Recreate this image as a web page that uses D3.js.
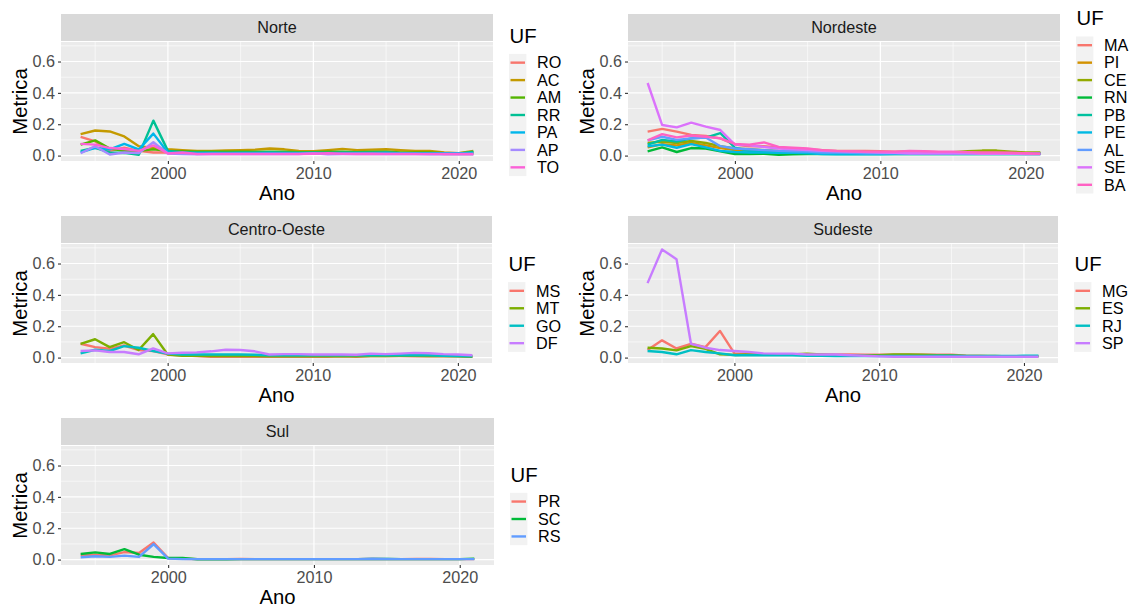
<!DOCTYPE html>
<meta charset="utf-8">
<script src="https://d3js.org/d3.v7.min.js"></script>
<style>
  body { margin: 0; background: #fff; }
  text { font-family: "Liberation Sans", Arial, sans-serif; }
</style>
<div id="my_dataviz"></div>
<script>

// ---- Data ----
var anos = [1994, 1995, 1996, 1997, 1998, 1999, 2000, 2001, 2002, 2003, 2004, 2005, 2006, 2007,
            2008, 2009, 2010, 2011, 2012, 2013, 2014, 2015, 2016, 2017, 2018, 2019, 2020, 2021];

var ufNorte = ["RO", "AC", "AM", "RR", "PA", "AP", "TO"];
var metricaNorte = [
  [0.12, 0.09, 0.03, 0.05, 0.03, 0.02, 0.02,
   0.02, 0.015, 0.015, 0.015, 0.015, 0.015, 0.02, 0.015, 0.015, 0.02, 0.015, 0.015, 0.015, 0.02, 0.02, 0.015, 0.015, 0.015, 0.01, 0.01, 0.01],
  [0.137, 0.16, 0.154, 0.122, 0.06, 0.048, 0.04,
   0.035, 0.03, 0.03, 0.033, 0.035, 0.038, 0.045, 0.04, 0.03, 0.028, 0.035, 0.043, 0.035, 0.038, 0.04, 0.035, 0.03, 0.03, 0.02, 0.015, 0.03],
  [0.07, 0.097, 0.045, 0.03, 0.03, 0.04, 0.03,
   0.028, 0.025, 0.025, 0.025, 0.025, 0.025, 0.025, 0.025, 0.022, 0.022, 0.025, 0.025, 0.022, 0.025, 0.025, 0.02, 0.02, 0.02, 0.015, 0.015, 0.02],
  [0.03, 0.05, 0.02, 0.017, 0.005, 0.223, 0.03,
   0.022, 0.02, 0.02, 0.018, 0.02, 0.02, 0.022, 0.02, 0.018, 0.02, 0.018, 0.02, 0.02, 0.02, 0.018, 0.015, 0.015, 0.015, 0.012, 0.012, 0.025],
  [0.02, 0.05, 0.04, 0.075, 0.04, 0.14, 0.02,
   0.018, 0.015, 0.015, 0.015, 0.015, 0.015, 0.015, 0.015, 0.015, 0.015, 0.015, 0.015, 0.015, 0.015, 0.018, 0.015, 0.015, 0.015, 0.015, 0.015, 0.015],
  [0.015, 0.06, 0.007, 0.02, 0.017, 0.085, 0.013,
   0.01, 0.008, 0.01, 0.01, 0.01, 0.01, 0.01, 0.01, 0.01, 0.015, 0.008, 0.01, 0.012, 0.01, 0.01, 0.01, 0.01, 0.008, 0.008, 0.008, 0.008],
  [0.075, 0.07, 0.048, 0.042, 0.03, 0.065, 0.013,
   0.02, 0.01, 0.01, 0.01, 0.01, 0.01, 0.01, 0.01, 0.01, 0.012, 0.015, 0.012, 0.01, 0.012, 0.01, 0.01, 0.01, 0.01, 0.01, 0.01, 0.01]
];

var ufNordeste = ["MA", "PI", "CE", "RN", "PB", "PE", "AL", "SE", "BA"];
var metricaNordeste = [
  [0.153, 0.17, 0.153, 0.132, 0.125, 0.11, 0.07,
   0.06, 0.06, 0.05, 0.045, 0.04, 0.035, 0.03, 0.03, 0.03, 0.028, 0.025, 0.025, 0.025, 0.022, 0.02, 0.02, 0.02, 0.02, 0.018, 0.015, 0.015],
  [0.052, 0.073, 0.065, 0.08, 0.065, 0.048, 0.035,
   0.03, 0.028, 0.025, 0.025, 0.022, 0.02, 0.02, 0.02, 0.018, 0.018, 0.018, 0.018, 0.018, 0.018, 0.02, 0.02, 0.02, 0.022, 0.02, 0.015, 0.015],
  [0.08, 0.09, 0.08, 0.093, 0.08, 0.06, 0.045,
   0.04, 0.035, 0.03, 0.028, 0.025, 0.025, 0.025, 0.022, 0.022, 0.02, 0.022, 0.025, 0.02, 0.022, 0.022, 0.028, 0.032, 0.032, 0.025, 0.02, 0.02],
  [0.027, 0.052, 0.023, 0.048, 0.045, 0.027, 0.01,
   0.01, 0.012, 0.005, 0.008, 0.01, 0.01, 0.01, 0.01, 0.01, 0.01, 0.01, 0.01, 0.01, 0.01, 0.01, 0.01, 0.01, 0.01, 0.01, 0.01, 0.01],
  [0.07, 0.1, 0.09, 0.11, 0.115, 0.143, 0.05,
   0.03, 0.025, 0.02, 0.02, 0.02, 0.02, 0.018, 0.015, 0.015, 0.015, 0.015, 0.015, 0.015, 0.015, 0.015, 0.012, 0.012, 0.012, 0.012, 0.012, 0.012],
  [0.06, 0.07, 0.05, 0.073, 0.052, 0.03, 0.023,
   0.02, 0.02, 0.018, 0.018, 0.015, 0.01, 0.008, 0.008, 0.008, 0.008, 0.01, 0.01, 0.01, 0.01, 0.01, 0.01, 0.01, 0.01, 0.01, 0.01, 0.01],
  [0.097, 0.12, 0.1, 0.11, 0.115, 0.06, 0.045,
   0.04, 0.035, 0.03, 0.028, 0.025, 0.02, 0.02, 0.018, 0.015, 0.015, 0.015, 0.012, 0.012, 0.012, 0.012, 0.012, 0.012, 0.012, 0.012, 0.012, 0.012],
  [0.463, 0.195, 0.18, 0.21, 0.185, 0.163, 0.07,
   0.065, 0.055, 0.045, 0.04, 0.035, 0.03, 0.028, 0.025, 0.022, 0.02, 0.018, 0.015, 0.015, 0.015, 0.015, 0.015, 0.012, 0.012, 0.012, 0.01, 0.01],
  [0.097, 0.137, 0.116, 0.128, 0.12, 0.11, 0.075,
   0.07, 0.084, 0.055, 0.05, 0.045, 0.035, 0.03, 0.028, 0.025, 0.025, 0.025, 0.03, 0.028, 0.025, 0.025, 0.022, 0.02, 0.02, 0.018, 0.015, 0.012]
];

var ufCentroOeste = ["MS", "MT", "GO", "DF"];
var metricaCentroOeste = [
  [0.088, 0.067, 0.056, 0.077, 0.048, 0.042, 0.02,
   0.015, 0.01, 0.005, 0.005, 0.005, 0.005, 0.005, 0.005, 0.005, 0.005, 0.005, 0.008, 0.005, 0.01, 0.01, 0.01, 0.008, 0.008, 0.008, 0.008, 0.005],
  [0.088, 0.117, 0.067, 0.098, 0.048, 0.15, 0.02,
   0.012, 0.012, 0.01, 0.01, 0.01, 0.01, 0.008, 0.008, 0.008, 0.008, 0.008, 0.008, 0.008, 0.01, 0.01, 0.012, 0.012, 0.01, 0.01, 0.008, 0.005],
  [0.027, 0.05, 0.042, 0.073, 0.063, 0.042, 0.025,
   0.02, 0.02, 0.02, 0.02, 0.02, 0.018, 0.015, 0.015, 0.015, 0.015, 0.015, 0.015, 0.015, 0.015, 0.015, 0.015, 0.015, 0.015, 0.012, 0.01, 0.008],
  [0.042, 0.046, 0.036, 0.036, 0.021, 0.059, 0.027,
   0.031, 0.033, 0.04, 0.05, 0.048, 0.04, 0.02, 0.022, 0.022, 0.02, 0.02, 0.02, 0.018, 0.025, 0.022, 0.025, 0.03, 0.028, 0.022, 0.02, 0.015]
];

var ufSudeste = ["MG", "ES", "RJ", "SP"];
var metricaSudeste = [
  [0.048, 0.11, 0.058, 0.088, 0.067, 0.17, 0.027,
   0.025, 0.022, 0.02, 0.02, 0.02, 0.02, 0.02, 0.02, 0.018, 0.018, 0.018, 0.018, 0.018, 0.018, 0.018, 0.012, 0.01, 0.008, 0.008, 0.008, 0.008],
  [0.063, 0.058, 0.046, 0.073, 0.056, 0.021, 0.017,
   0.02, 0.02, 0.02, 0.02, 0.025, 0.02, 0.015, 0.015, 0.015, 0.015, 0.02, 0.02, 0.018, 0.015, 0.015, 0.01, 0.01, 0.01, 0.008, 0.008, 0.008],
  [0.042, 0.036, 0.021, 0.048, 0.036, 0.027, 0.015,
   0.015, 0.015, 0.015, 0.015, 0.012, 0.012, 0.01, 0.01, 0.01, 0.01, 0.01, 0.01, 0.01, 0.012, 0.012, 0.01, 0.01, 0.01, 0.01, 0.012, 0.012],
  [0.475, 0.69, 0.628, 0.088, 0.063, 0.048, 0.042,
   0.036, 0.027, 0.025, 0.025, 0.02, 0.02, 0.02, 0.015, 0.012, 0.008, 0.005, 0.005, 0.005, 0.005, 0.005, 0.005, 0.005, 0.005, 0.005, 0.005, 0.005]
];

var ufSul = ["PR", "SC", "RS"];
var metricaSul = [
  [0.031, 0.031, 0.027, 0.048, 0.042, 0.109, 0.01,
   0.005, 0.003, 0.003, 0.003, 0.004, 0.003, 0.003, 0.003, 0.003, 0.003, 0.003, 0.003, 0.003, 0.004, 0.003, 0.003, 0.004, 0.004, 0.003, 0.003, 0.003],
  [0.036, 0.046, 0.036, 0.067, 0.031, 0.017, 0.01,
   0.01, 0.002, 0.002, 0.002, 0.003, 0.003, 0.003, 0.003, 0.003, 0.003, 0.003, 0.003, 0.003, 0.004, 0.004, 0.003, 0.003, 0.003, 0.003, 0.003, 0.006],
  [0.015, 0.021, 0.017, 0.025, 0.017, 0.098, 0.006,
   0.003, 0.003, 0.003, 0.003, 0.003, 0.003, 0.003, 0.003, 0.003, 0.003, 0.003, 0.003, 0.003, 0.005, 0.004, 0.003, 0.003, 0.003, 0.003, 0.003, 0.003]
];

// Ticks
var xTicks = [2000, 2010, 2020];
var xMinor = [1995, 2005, 2015];
var yTicks = [0.0, 0.2, 0.4, 0.6];
var yMinor = [0.1, 0.3, 0.5, 0.7];

// ---- Styles / layout ----
// ggplot hue palettes
var paletas = {
  3: ["#F8766D", "#00BA38", "#619CFF"],
  4: ["#F8766D", "#7CAE00", "#00BFC4", "#C77CFF"],
  7: ["#F8766D", "#C49A00", "#53B400", "#00C094", "#00B6EB", "#A58AFF", "#FB61D7"],
  9: ["#F8766D", "#D39200", "#93AA00", "#00BA38", "#00C19F", "#00B9E3", "#619CFF", "#DB72FB", "#FF61C3"]
};

var graficos = [
  { nome: "Norte",        ufs: ufNorte,       valores: metricaNorte,       ox: 0,   oy: 0,   right: 493 },
  { nome: "Nordeste",     ufs: ufNordeste,    valores: metricaNordeste,    ox: 567, oy: 0,   right: 493 },
  { nome: "Centro-Oeste", ufs: ufCentroOeste, valores: metricaCentroOeste, ox: 0,   oy: 202, right: 492 },
  { nome: "Sudeste",      ufs: ufSudeste,     valores: metricaSudeste,     ox: 567, oy: 202, right: 491 },
  { nome: "Sul",          ufs: ufSul,         valores: metricaSul,         ox: 0,   oy: 404, right: 494 }
];

var panelLeft = 61, stripTop = 14, stripBottom = 41, panelTop = 42, panelBottom = 161;
var keyStep = 17.45;
var smallFont = '16.2px', bigFont = '20.3px';

var svg = d3.select('#my_dataviz')
  .append('svg')
    .attr('width', 1131)
    .attr('height', 607);

graficos.forEach(function (p) {
  var g = svg.append('g')
    .attr('transform', 'translate(' + p.ox + ',' + p.oy + ')');

  var x = d3.scaleLinear().domain([1992.65, 2022.35]).range([panelLeft, p.right]);
  var y = d3.scaleLinear().domain([-0.0345, 0.7245]).range([panelBottom, panelTop]);
  var cor = paletas[p.ufs.length];

  // Strip
  g.append('rect')
    .attr('x', panelLeft).attr('y', stripTop)
    .attr('width', p.right - panelLeft).attr('height', stripBottom - stripTop)
    .attr('fill', '#D9D9D9');
  g.append('text')
    .attr('x', (panelLeft + p.right) / 2)
    .attr('y', (stripTop + stripBottom) / 2)
    .attr('dy', '0.36em')
    .attr('text-anchor', 'middle')
    .style('font-size', smallFont)
    .style('fill', '#1A1A1A')
    .text(p.nome);

  // Panel background
  g.append('rect')
    .attr('x', panelLeft).attr('y', panelTop)
    .attr('width', p.right - panelLeft).attr('height', panelBottom - panelTop)
    .attr('fill', '#EBEBEB');

  // Grid lines
  g.selectAll('.minorx').data(xMinor).enter().append('line')
    .attr('x1', x).attr('x2', x).attr('y1', panelTop).attr('y2', panelBottom)
    .attr('stroke', '#fff').attr('stroke-width', 0.6);
  g.selectAll('.minory').data(yMinor).enter().append('line')
    .attr('y1', y).attr('y2', y).attr('x1', panelLeft).attr('x2', p.right)
    .attr('stroke', '#fff').attr('stroke-width', 0.6);
  g.selectAll('.majorx').data(xTicks).enter().append('line')
    .attr('x1', x).attr('x2', x).attr('y1', panelTop).attr('y2', panelBottom)
    .attr('stroke', '#fff').attr('stroke-width', 1.2);
  g.selectAll('.majory').data(yTicks).enter().append('line')
    .attr('y1', y).attr('y2', y).attr('x1', panelLeft).attr('x2', p.right)
    .attr('stroke', '#fff').attr('stroke-width', 1.2);

  // Axes
  var ax = g.append('g')
    .attr('transform', 'translate(0,' + panelBottom + ')')
    .call(d3.axisBottom(x).tickValues(xTicks).tickSize(3).tickPadding(3).tickFormat(d3.format('d')));
  var ay = g.append('g')
    .attr('transform', 'translate(' + panelLeft + ',0)')
    .call(d3.axisLeft(y).tickValues(yTicks).tickSize(3).tickPadding(3).tickFormat(d3.format('.1f')));
  [ax, ay].forEach(function (a) {
    a.select('.domain').remove();
    a.selectAll('.tick line').attr('stroke', '#333333').attr('stroke-width', 1.1);
    a.selectAll('.tick text')
      .style('font-size', smallFont)
      .style('font-family', '"Liberation Sans", Arial, sans-serif')
      .attr('fill', '#4D4D4D');
  });

  // Axis titles
  g.append('text')
    .attr('x', (panelLeft + p.right) / 2)
    .attr('y', panelBottom + 39)
    .attr('text-anchor', 'middle')
    .style('font-size', bigFont)
    .text('Ano');
  g.append('text')
    .attr('transform', 'translate(20,' + (panelTop + panelBottom) / 2 + ') rotate(-90)')
    .attr('dy', '0.36em')
    .attr('text-anchor', 'middle')
    .style('font-size', bigFont)
    .text('Metrica');

  // Lines
  var linha = d3.line()
    .x(function (d, i) { return x(anos[i]); })
    .y(function (d) { return y(d); });
  g.append('g')
    .selectAll('path')
    .data(p.valores)
    .enter()
    .append('path')
      .attr('d', linha)
      .attr('fill', 'none')
      .attr('stroke', function (d, i) { return cor[i]; })
      .attr('stroke-width', 2.4)
      .attr('stroke-linejoin', 'round');

  // Legend
  var n = p.ufs.length;
  var legLeft = p.right + 16;
  var boxTop = 102 - (26 + n * keyStep) / 2 + 26;
  var legend = g.append('g').attr('class', 'legend');
  legend.append('text')
    .attr('x', legLeft + 0.5)
    .attr('y', boxTop - 11)
    .style('font-size', bigFont)
    .text('UF');
  legend.append('rect')
    .attr('x', legLeft).attr('y', boxTop)
    .attr('width', 17.4).attr('height', n * keyStep)
    .attr('fill', '#F2F2F2');
  var items = legend.selectAll('.item')
    .data(p.ufs)
    .enter()
    .append('g')
      .attr('transform', function (d, i) {
        return 'translate(' + legLeft + ',' + (boxTop + keyStep * (i + 0.5)) + ')';
      });
  items.append('line')
    .attr('x1', 1.5).attr('x2', 16)
    .attr('stroke', function (d, i) { return cor[i]; })
    .attr('stroke-width', 2.4);
  items.append('text')
    .attr('x', 28)
    .attr('dy', '0.36em')
    .style('font-size', smallFont)
    .text(function (d) { return d; });
});

</script>
